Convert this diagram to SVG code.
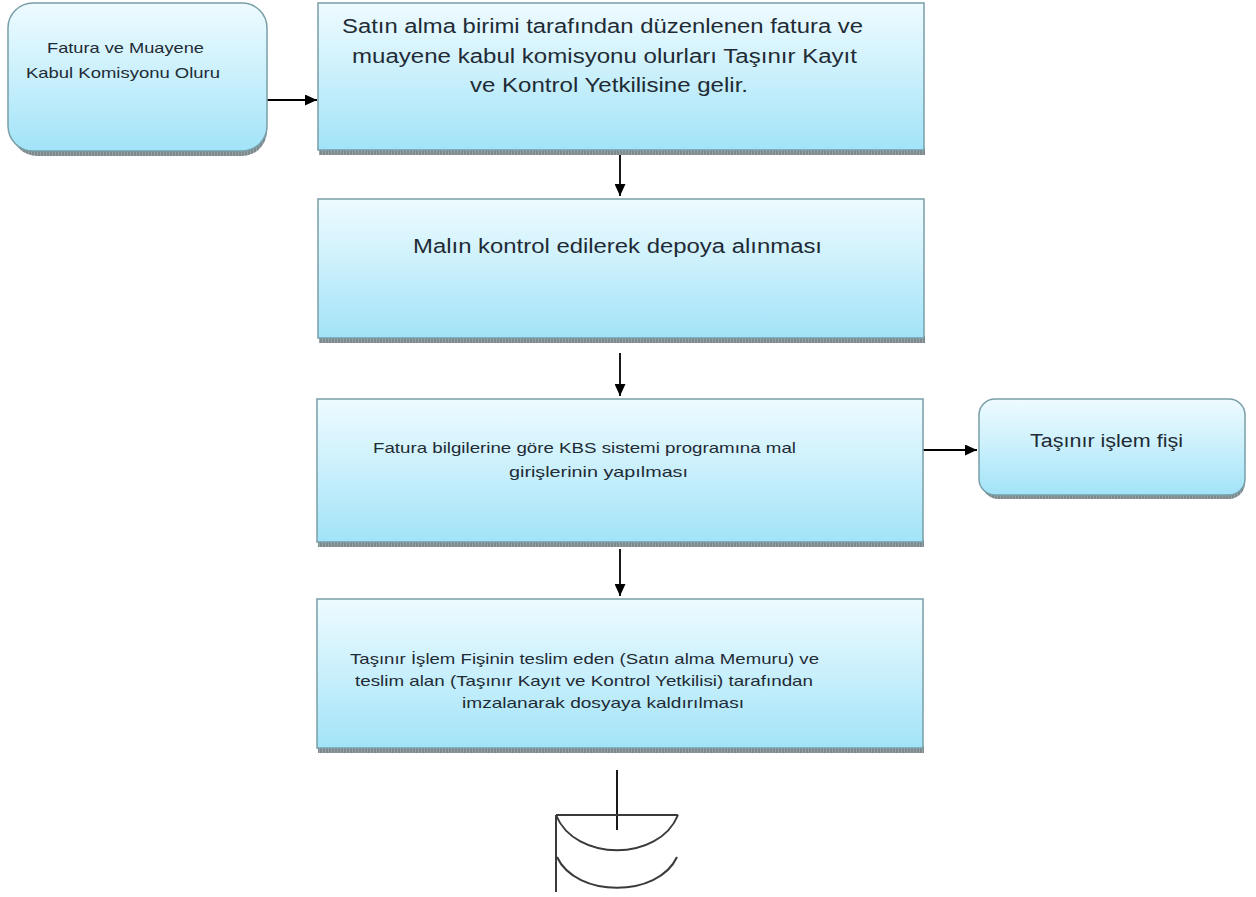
<svg xmlns="http://www.w3.org/2000/svg" width="1256" height="897" viewBox="0 0 1256 897">
  <defs>
    <linearGradient id="fillBlue" x1="0" y1="0" x2="0" y2="1">
      <stop offset="0" stop-color="#eefbff"/>
      <stop offset="0.45" stop-color="#cdf1fc"/>
      <stop offset="1" stop-color="#a2e3f8"/>
    </linearGradient>
    <marker id="arrowHead" viewBox="0 0 12 11" refX="12" refY="5.5" markerWidth="12" markerHeight="11" markerUnits="userSpaceOnUse" orient="auto">
      <path d="M0,0 L12,5.5 L0,11 Z" fill="#000"/>
    </marker>
    <pattern id="shadowTex" width="3" height="5" patternUnits="userSpaceOnUse">
      <rect width="3" height="5" fill="#7d898d"/>
      <rect x="1" width="1" height="5" fill="#98a3a6"/>
    </pattern>
  </defs>
  <style>
    .box { fill: url(#fillBlue); stroke: #789ea8; stroke-width: 1.5; }
    .shadow { fill: url(#shadowTex); }
    .lbl { font-family: "Liberation Sans", Arial, sans-serif; fill: #1f2b35; }
    .big { font-size: 20px; }
    .mid { font-size: 18px; }
    .small { font-size: 15px; }
    .link { stroke: #000; stroke-width: 1.8; fill: none; }
    .term { stroke: #3a3a3a; stroke-width: 2; fill: none; }
  </style>

  <rect width="1256" height="897" fill="#ffffff"/>

  <!-- connectors -->
  <g id="connectors">
    <line class="link" x1="267" y1="100" x2="317" y2="100" marker-end="url(#arrowHead)"/>
    <line class="link" x1="620" y1="155" x2="620" y2="196" marker-end="url(#arrowHead)"/>
    <line class="link" x1="620" y1="353" x2="620" y2="396" marker-end="url(#arrowHead)"/>
    <line class="link" x1="620" y1="549" x2="620" y2="596" marker-end="url(#arrowHead)"/>
    <line class="link" x1="923" y1="450" x2="977" y2="450" marker-end="url(#arrowHead)"/>
    <line class="link" x1="617" y1="770" x2="617" y2="830"/>
  </g>

  <!-- start: invoice and acceptance approval -->
  <g id="node-start">
    <rect class="shadow" x="12" y="10" width="255" height="146" rx="25"/>
    <rect class="box" x="8" y="3" width="259" height="148" rx="25"/>
    <text class="lbl small" x="47" y="53" textLength="157" lengthAdjust="spacingAndGlyphs">Fatura ve Muayene</text>
    <text class="lbl small" x="26" y="78" textLength="194" lengthAdjust="spacingAndGlyphs">Kabul Komisyonu Oluru</text>
  </g>

  <g id="node-receive">
    <rect class="shadow" x="319" y="148" width="606" height="7"/>
    <rect class="box" x="318" y="3" width="606" height="147"/>
    <text class="lbl big" x="342" y="33" textLength="521" lengthAdjust="spacingAndGlyphs">Satın alma birimi tarafından düzenlenen fatura ve</text>
    <text class="lbl big" x="352" y="63" textLength="505" lengthAdjust="spacingAndGlyphs">muayene kabul komisyonu olurları Taşınır Kayıt</text>
    <text class="lbl big" x="470" y="92" textLength="278" lengthAdjust="spacingAndGlyphs">ve Kontrol Yetkilisine gelir.</text>
  </g>

  <g id="node-store">
    <rect class="shadow" x="319" y="336" width="606" height="7"/>
    <rect class="box" x="318" y="199" width="606" height="139"/>
    <text class="lbl big" x="413" y="253" textLength="409" lengthAdjust="spacingAndGlyphs">Malın kontrol edilerek depoya alınması</text>
  </g>

  <g id="node-kbs">
    <rect class="shadow" x="318" y="540" width="606" height="7"/>
    <rect class="box" x="317" y="399" width="606" height="143"/>
    <text class="lbl small" x="373" y="453" textLength="423" lengthAdjust="spacingAndGlyphs">Fatura bilgilerine göre KBS sistemi programına mal</text>
    <text class="lbl small" x="509" y="477" textLength="179" lengthAdjust="spacingAndGlyphs">girişlerinin yapılması</text>
  </g>

  <g id="node-slip">
    <rect class="shadow" x="982" y="404" width="263" height="95" rx="16"/>
    <rect class="box" x="979" y="399" width="266" height="96" rx="16"/>
    <text class="lbl mid" x="1030" y="447" textLength="153" lengthAdjust="spacingAndGlyphs">Taşınır işlem fişi</text>
  </g>

  <g id="node-sign">
    <rect class="shadow" x="318" y="746" width="606" height="7"/>
    <rect class="box" x="317" y="599" width="606" height="149"/>
    <text class="lbl small" x="350" y="664" textLength="469" lengthAdjust="spacingAndGlyphs">Taşınır İşlem Fişinin teslim eden (Satın alma Memuru) ve</text>
    <text class="lbl small" x="355" y="686" textLength="458" lengthAdjust="spacingAndGlyphs">teslim alan (Taşınır Kayıt ve Kontrol Yetkilisi) tarafından</text>
    <text class="lbl small" x="462" y="708" textLength="282" lengthAdjust="spacingAndGlyphs">imzalanarak dosyaya kaldırılması</text>
  </g>

  <!-- archive / file storage symbol -->
  <g id="node-archive">
    <line class="term" x1="556" y1="815" x2="678" y2="815" stroke-width="1.4"/>
    <line class="term" x1="556" y1="815" x2="556" y2="892" stroke-width="1.4"/>
    <path class="term" d="M556,815 C575,862 659,862 678,815"/>
    <path class="term" d="M557,857 C576,898 658,898 677,857"/>
  </g>
</svg>
